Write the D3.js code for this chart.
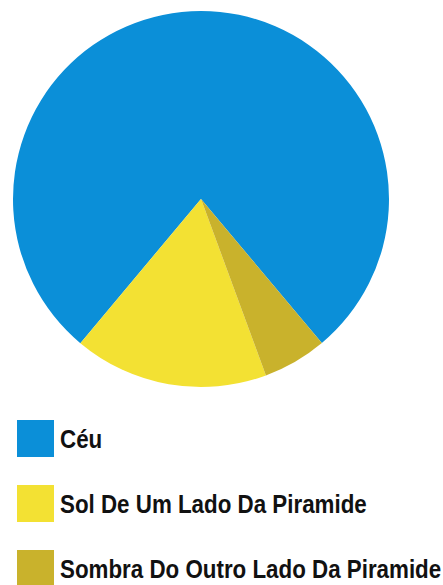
<!DOCTYPE html>
<html>
<head>
<meta charset="utf-8">
<script src="https://cdn.jsdelivr.net/npm/d3@7"></script>
<style>
  body { margin: 0; background: #fff; }
  .legtext { font-family: "Liberation Sans", Arial, sans-serif; font-weight: bold; font-size: 26px; fill: #111; }
</style>
</head>
<body>
<div id="chart"></div>
<script>
// slices (percent of the circle)
var labels = ["Céu", "Sol De Um Lado Da Piramide", "Sombra Do Outro Lado Da Piramide"];
var values = [77.8, 16.7, 5.5];
var colors = ["#0b8fd8", "#f3e133", "#c9b22c"];

var width = 443, height = 585;
var cx = 201, cy = 199, radius = 188;

var svg = d3.select("#chart")
    .append("svg")
    .attr("width", width)
    .attr("height", height);

// counter-clockwise so the sky wraps round the top and the pyramid sits at the bottom
var deg = Math.PI / 180;
var pie = d3.pie()
    .sort(null)
    .startAngle(500 * deg)
    .endAngle(140 * deg);

var arc = d3.arc()
    .innerRadius(0)
    .outerRadius(radius);

var color = d3.scaleOrdinal()
    .domain(labels)
    .range(colors);

svg.append("g")
    .attr("transform", "translate(" + cx + "," + cy + ")")
    .selectAll("path")
    .data(pie(values))
    .enter().append("path")
    .attr("d", arc)
    .attr("fill", function(d, i) { return color(labels[i]); });

// legend
var legY = d3.scaleBand()
    .domain(labels)
    .range([420, 615])
    .paddingInner(0);

var box = 37;
var squeeze = 0.86; // no condensed font installed, so narrow the bold face by hand

var leg = svg.selectAll(".leg")
    .data(labels)
    .enter().append("g")
    .attr("class", "leg")
    .attr("transform", function(d) { return "translate(0," + legY(d) + ")"; });

leg.append("rect")
    .attr("x", 17)
    .attr("y", 0)
    .attr("width", box)
    .attr("height", box)
    .attr("fill", function(d) { return color(d); });

leg.append("text")
    .attr("class", "legtext")
    .attr("transform", "translate(60," + (box / 2 + 9.5) + ") scale(" + squeeze + ",1)")
    .text(function(d) { return d; });
</script>
</body>
</html>
